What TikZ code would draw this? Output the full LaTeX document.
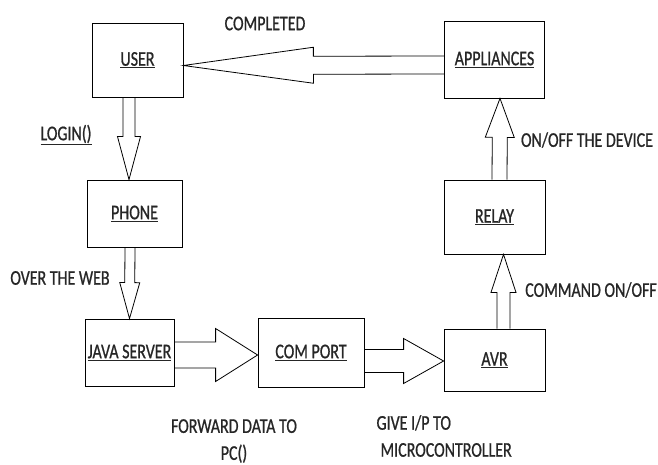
\documentclass[tikz,border=0pt]{standalone}
\usepackage{fontspec}
\setmainfont{Carlito}[FakeStretch=0.76, FakeBold=0.8]
\usetikzlibrary{positioning, calc}

\tikzset{
  block/.style = {draw, line width=0.8pt, inner sep=0pt},
  % hollow block arrow: shaft half width, head half width, head length
  fat/.style n args = {3}{to path={
    let \p1 = (\tikztostart), \p2 = (\tikztotarget) in
      ($(\p1)!#1pt!90:(\p2)$)
      -- ($(\p2)!#3pt!(\p1)!#1pt!-90:(\p1)$)
      -- ($(\p2)!#3pt!(\p1)!#2pt!-90:(\p1)$)
      -- (\p2)
      -- ($(\p2)!#3pt!(\p1)!#2pt!90:(\p1)$)
      -- ($(\p2)!#3pt!(\p1)!#1pt!90:(\p1)$)
      -- ($(\p1)!#1pt!-90:(\p2)$)}}
}

\begin{document}
\begin{tikzpicture} [x=1pt, y=-1pt, node distance=150pt, on grid,
    font=\fontsize{21}{27}\selectfont, text=black!85]
\useasboundingbox (0,0) rectangle (658,465);

\node (user) [block, minimum width=91pt, minimum height=74pt] at (137.5,60) {\underline{USER}};
\node (phone) [block, minimum width=95pt, minimum height=67pt, below left = 153.5pt and 3pt of user] {\underline{PHONE}};
\node (java) [block, minimum width=89pt, minimum height=67pt, below left = 139pt and 5pt of phone] {\underline{JAVA SERVER}};
\node (comport) [block, minimum width=106pt, minimum height=69pt, right = 181.5pt of java] {\underline{COM PORT}};
\node (avr) [block, minimum width=101pt, minimum height=62pt, below right = 7.5pt and 183.5pt of comport] {\underline{AVR}};
\node (relay) [block, minimum width=101pt, minimum height=74pt, above = 143pt of avr] {\underline{RELAY}};
\node (appliances) [block, minimum width=100pt, minimum height=77pt, above = 157.5pt of relay] {\underline{APPLIANCES}};

% labels beside the arrows
\node (completed) at (265,23.5) {COMPLETED};
\node (login) at (66,135) {\underline{LOGIN()}};
\node (web) at (60,278) {OVER THE WEB};
\node (device) at (587,140) {ON/OFF THE DEVICE};
\node (command) at (591,290) {COMMAND ON/OFF};
\node (forward) [align=center] at (234,441) {FORWARD DATA TO\\PC()};
\node (give) [align=left, anchor=west] at (373,436) {GIVE I/P TO\\\hspace*{4pt}MICROCONTROLLER};

\path [line width=0.8pt]
	([yshift=-5.5pt]appliances.west) edge [fat={9}{18}{130}] ([yshift=-5.5pt]user.east)
	([xshift=-8.5pt]user.south) edge [fat={6}{11.5}{43}] ([xshift=-5.5pt]phone.north)
	([xshift=-4.5pt]phone.south) edge [fat={5}{10}{36}] (java.north)
	([yshift=-2.5pt]java.east) edge [fat={13}{26.5}{42}] ([yshift=-2.5pt]comport.west)
	([yshift=-8.5pt]comport.east) edge [fat={11.5}{22.5}{40}] ([yshift=-1pt]avr.west)
	([xshift=9pt]avr.north) edge [fat={6.5}{12.5}{38}] ([xshift=9pt]relay.south)
	([xshift=5pt]relay.north) edge [fat={7.5}{14.5}{39}] ([xshift=5.5pt]appliances.south);
\end{tikzpicture}
\end{document}
